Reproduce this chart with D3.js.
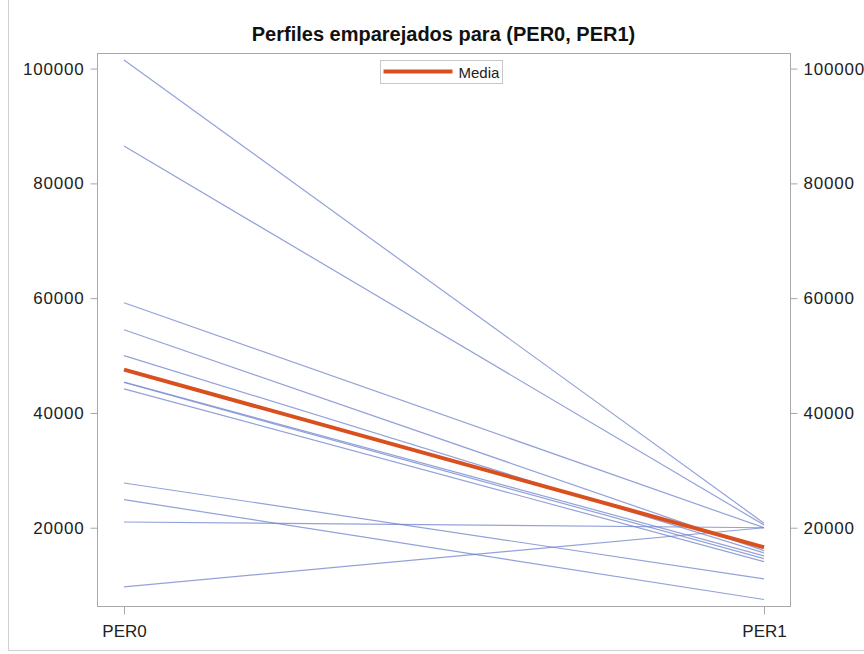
<!DOCTYPE html>
<html>
<head>
<meta charset="utf-8">
<script src="https://cdn.jsdelivr.net/npm/d3@7"></script>
<style>
  html, body { margin: 0; padding: 0; background: #fff; }
  svg { display: block; font-family: "Liberation Sans", Arial, sans-serif; }
</style>
</head>
<body>
<svg id="chart" width="864" height="654"></svg>
<script>
// Paired profiles: one line per subject from PER0 to PER1
const periods = ["PER0", "PER1"];
const per0Values = [101500, 86500, 59200, 54500, 50000, 45400, 45300, 44200, 27800, 24900, 21000, 9700];
const per1Values = [20800, 20500, 20000, 16000, 15600, 15100, 14600, 14100, 11100, 7500, 20000, 20000];
const meanValues = [47540, 16600];
const yTicks = [20000, 40000, 60000, 80000, 100000];
const titleText = "Perfiles emparejados para (PER0, PER1)";
const legendLabel = "Media";

const svg = d3.select("#chart");
const frame = { left: 97, right: 790, top: 53, bottom: 606 };

// outer graph border
svg.append("path")
  .attr("d", "M8.5,0 V650.5 H864")
  .attr("fill", "none")
  .attr("stroke", "#d0d0d0")
  .attr("stroke-width", 1);

const x = d3.scalePoint()
  .domain(periods)
  .range([frame.left + 27, frame.right - 26]);

const y = d3.scaleLinear()
  .domain([6365, 102716])
  .range([frame.bottom, frame.top]);

// plot frame
svg.append("rect")
  .attr("x", frame.left + 0.5)
  .attr("y", frame.top + 0.5)
  .attr("width", frame.right - frame.left)
  .attr("height", frame.bottom - frame.top)
  .attr("fill", "none")
  .attr("stroke", "#a8a8a8");

function styleAxis(g, spacing) {
  g.select(".domain").remove();
  g.selectAll(".tick line").attr("stroke", "#a8a8a8");
  g.selectAll(".tick text")
    .attr("fill", "#222")
    .style("font-size", "17px")
    .style("letter-spacing", spacing)
    .style("font-family", "'Liberation Sans', Arial, sans-serif");
}

svg.append("g")
  .attr("transform", `translate(${frame.left + 0.5},0)`)
  .call(d3.axisLeft(y).tickValues(yTicks).tickSize(7).tickPadding(6).tickFormat(d3.format("d")))
  .call(styleAxis, "0.8px");

svg.append("g")
  .attr("transform", `translate(${frame.right + 0.5},0)`)
  .call(d3.axisRight(y).tickValues(yTicks).tickSize(7).tickPadding(6).tickFormat(d3.format("d")))
  .call(styleAxis, "0.8px");

svg.append("g")
  .attr("transform", `translate(0,${frame.bottom + 0.5})`)
  .call(d3.axisBottom(x).tickSize(8).tickPadding(10))
  .call(styleAxis, "0px");

// subject profiles
const line = d3.line().x(d => x(d.period)).y(d => y(d.value));
const profiles = per0Values.map((v, i) => [
  { period: periods[0], value: v },
  { period: periods[1], value: per1Values[i] }
]);

svg.append("g")
  .selectAll("path")
  .data(profiles)
  .join("path")
  .attr("d", line)
  .attr("fill", "none")
  .attr("stroke", "#6f82cc")
  .attr("stroke-opacity", 0.75)
  .attr("stroke-width", 1.2);

// mean profile
svg.append("path")
  .datum(periods.map((p, i) => ({ period: p, value: meanValues[i] })))
  .attr("d", line)
  .attr("fill", "none")
  .attr("stroke", "#d9501e")
  .attr("stroke-width", 4)
  .attr("stroke-linecap", "butt");

// title
svg.append("text")
  .attr("x", (frame.left + frame.right) / 2)
  .attr("y", 41)
  .attr("text-anchor", "middle")
  .attr("fill", "#111")
  .style("font-size", "20px")
  .style("font-weight", "bold")
  .text(titleText);

// legend
const legend = svg.append("g").attr("transform", "translate(380.5,60.5)");
legend.append("rect")
  .attr("width", 122)
  .attr("height", 23)
  .attr("fill", "#fff")
  .attr("stroke", "#c8c8c8");
legend.append("line")
  .attr("x1", 3).attr("x2", 72)
  .attr("y1", 11).attr("y2", 11)
  .attr("stroke", "#d9501e")
  .attr("stroke-width", 4);
legend.append("text")
  .attr("x", 78)
  .attr("y", 17)
  .attr("fill", "#222")
  .style("font-size", "15px")
  .text(legendLabel);
</script>
</body>
</html>
